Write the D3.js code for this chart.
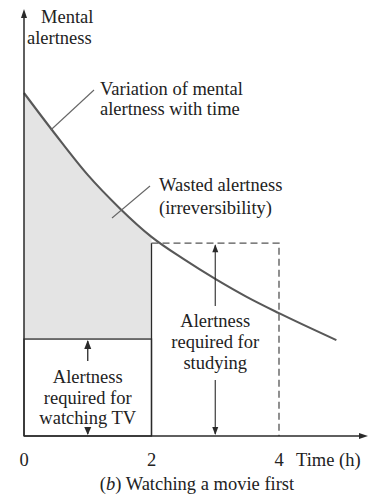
<!DOCTYPE html>
<html>
<head>
<meta charset="utf-8">
<script src="https://cdn.jsdelivr.net/npm/d3@7/dist/d3.min.js"></script>
<style>
  html, body { margin: 0; padding: 0; background: #fff; }
  svg { display: block; }
</style>
</head>
<body>
<svg id="chart" width="378" height="495"></svg>
<script>
// Mental alertness over time (hours)
const curveTime = [0, 0.5, 1, 1.5, 2, 2.5, 3, 3.5, 4, 4.9];
const curveAlertness = [9.8, 8.6, 7.46, 6.51, 5.69, 5.06, 4.49, 3.97, 3.51, 2.74];

// Activities: time span and alertness they require
const tvPeriod = [0, 2];
const tvLevel = 2.77;
const studyPeriod = [2, 4];
const studyLevel = 5.51;

const timeTicks = [0, 2, 4];
const yTitle = ["Mental", "alertness"];
const xTitle = "Time (h)";
const curveNote = ["Variation of mental", "alertness with time"];
const wasteNote = ["Wasted alertness", "(irreversibility)"];
const studyNote = ["Alertness", "required for", "studying"];
const tvNote = ["Alertness", "required for", "watching TV"];
const caption = "Watching a movie first";

const svg = d3.select("#chart");
const x = d3.scaleLinear().domain([0, 4]).range([24, 279]);
const y = d3.scaleLinear().domain([0, 10]).range([436, 86]);

const ink = "#2a2a2a";
const fs = "18.5px";
const serif = '"Liberation Serif"';

const pts = curveTime.map((t, i) => [t, curveAlertness[i]]);

// wasted alertness: between the curve and the TV requirement, while watching TV
const area = d3.area()
  .x(d => x(d[0])).y0(y(tvLevel)).y1(d => y(d[1]))
  .curve(d3.curveMonotoneX);
svg.append("path")
  .datum(pts.filter(d => d[0] <= tvPeriod[1]))
  .attr("d", area)
  .attr("fill", "#e4e4e4");

// TV box (solid)
svg.append("rect")
  .attr("x", x(tvPeriod[0])).attr("y", y(tvLevel))
  .attr("width", x(tvPeriod[1]) - x(tvPeriod[0]))
  .attr("height", y(0) - y(tvLevel))
  .attr("fill", "none").attr("stroke", ink).attr("stroke-width", 1.3);

// study box: solid left side, dashed top and right
svg.append("line")
  .attr("x1", x(studyPeriod[0])).attr("x2", x(studyPeriod[0]))
  .attr("y1", y(studyLevel)).attr("y2", y(0))
  .attr("stroke", ink).attr("stroke-width", 1.3);
svg.append("path")
  .attr("d", `M${x(studyPeriod[0])},${y(studyLevel)}H${x(studyPeriod[1])}V${y(0)}`)
  .attr("fill", "none").attr("stroke", "#555")
  .attr("stroke-width", 1.3).attr("stroke-dasharray", "7,4");

// alertness curve
const line = d3.line().x(d => x(d[0])).y(d => y(d[1])).curve(d3.curveMonotoneX);
svg.append("path").datum(pts).attr("d", line)
  .attr("fill", "none").attr("stroke", "#585858").attr("stroke-width", 2.1);

// arrowheads
function head(px, py, dir, size = 7, w = 3) {
  let p;
  if (dir === "up") p = [[px, py], [px - w, py + size], [px + w, py + size]];
  else if (dir === "down") p = [[px, py], [px - w, py - size], [px + w, py - size]];
  else p = [[px, py], [px - size, py - w], [px - size, py + w]];
  svg.append("path").attr("d", "M" + p.join("L") + "Z").attr("fill", ink);
}

// axes
svg.append("line").attr("x1", x(0)).attr("x2", x(0)).attr("y1", 12).attr("y2", y(0))
  .attr("stroke", ink).attr("stroke-width", 1.5);
head(x(0), 9, "up", 9, 3);
svg.append("line").attr("x1", x(0)).attr("x2", 364).attr("y1", y(0)).attr("y2", y(0))
  .attr("stroke", ink).attr("stroke-width", 1.5);
head(368, y(0), "right", 9, 3);

function styleText(sel) {
  return sel.style("font-family", serif).style("font-size", fs).style("fill", "#222");
}
function txt(s, px, py, anchor) {
  return styleText(svg.append("text").attr("x", px).attr("y", py)
    .attr("text-anchor", anchor)).text(s);
}

styleText(svg.selectAll(".tick").data(timeTicks).join("text")
  .attr("class", "tick")
  .attr("x", d => x(d)).attr("y", 466)
  .attr("text-anchor", "middle")).text(d => d);
txt(xTitle, 296, 466, "start");

const cap = styleText(svg.append("text").attr("x", 197).attr("y", 490)
  .attr("text-anchor", "middle"));
cap.append("tspan").text("(");
cap.append("tspan").style("font-style", "italic").text("b");
cap.append("tspan").text(") " + caption);

function lines(arr, px, py, anchor, gap) {
  arr.forEach((s, i) => txt(s, px, py + i * gap, anchor));
}

txt(yTitle[0], 41, 23, "start");
txt(yTitle[1], 27, 44, "start");

// leader lines
svg.append("line").attr("x1", x(0.42)).attr("y1", 130).attr("x2", 94).attr("y2", 90)
  .attr("stroke", "#666").attr("stroke-width", 1.1);
lines(curveNote, 100, 95, "start", 20);
svg.append("line").attr("x1", 112).attr("y1", 218).attr("x2", 150).attr("y2", 186)
  .attr("stroke", "#666").attr("stroke-width", 1.1);
lines(wasteNote, 159, 191, "start", 23);

// study requirement double arrow
const sx = x(3);
lines(studyNote, sx, 327, "middle", 21);
svg.append("line").attr("x1", sx).attr("x2", sx).attr("y1", y(studyLevel) + 2).attr("y2", 306)
  .attr("stroke", ink).attr("stroke-width", 1.1);
svg.append("line").attr("x1", sx).attr("x2", sx).attr("y1", 380).attr("y2", y(0) - 2)
  .attr("stroke", ink).attr("stroke-width", 1.1);
head(sx, y(studyLevel) + 1, "up", 8, 3);
head(sx, y(0) - 1, "down", 8, 3);

// TV requirement arrows
const tx = x(1);
lines(tvNote, tx, 383, "middle", 20.5);
svg.append("line").attr("x1", tx).attr("x2", tx).attr("y1", y(tvLevel) + 2).attr("y2", 361)
  .attr("stroke", ink).attr("stroke-width", 1.3);
head(tx, y(tvLevel) + 1, "up", 9, 3.5);
svg.append("line").attr("x1", tx).attr("x2", tx).attr("y1", 427).attr("y2", y(0) - 2)
  .attr("stroke", ink).attr("stroke-width", 1.3);
head(tx, y(0) - 1, "down", 8, 3.5);
</script>
</body>
</html>
